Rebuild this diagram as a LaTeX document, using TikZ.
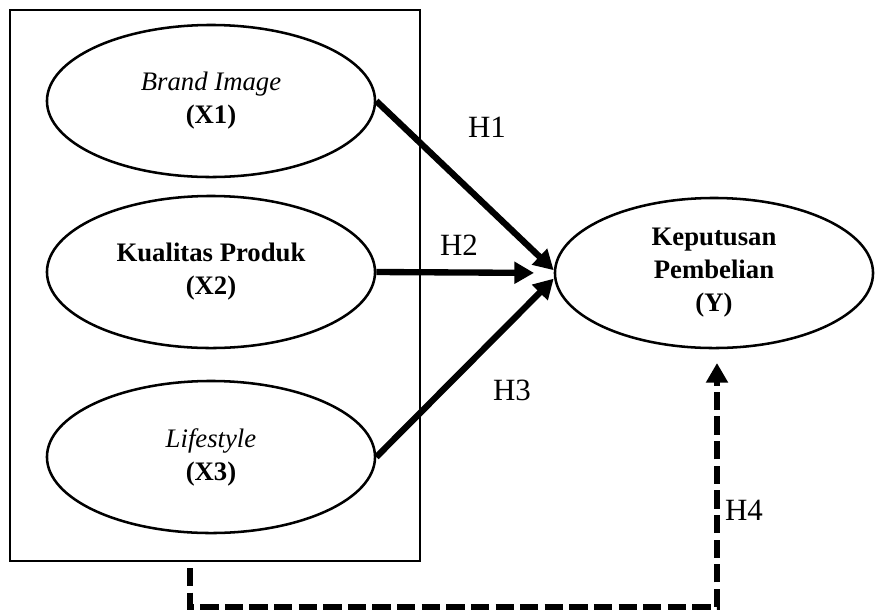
\documentclass[tikz,border=0pt]{standalone}
\usepackage{fontspec}
\setmainfont{Liberation Serif}
\usetikzlibrary{arrows.meta,shapes.geometric}
\tikzset{
    EL/.style ={ellipse,draw,line width=1.8pt,inner sep=0pt,minimum width=8.2cm,minimum height=3.8cm,align=center,font=\fontsize{19}{23.5}\selectfont},
    RB/.style ={rectangle,draw,line width=2pt,inner sep=0pt,minimum width=10.25cm,minimum height=13.775cm},
    AR/.style ={line width=4.5pt,-{Triangle[length=14pt,width=15pt]}},
    DA/.style ={line width=4.5pt,dash pattern=on 13pt off 4.5pt,-{Triangle[length=14pt,width=15pt]}},
    LB/.style ={font=\fontsize{22}{24}\selectfont}}

\begin{document}
\begin{tikzpicture}[x=0.025cm,y=-0.025cm]
        \useasboundingbox (0,0) rectangle (875,614);
        \node[RB] (0) at(215,285.5){};
        \node[EL] (1) at(211,101){\textit{Brand Image}\\\textbf{(X1)}};
        \node[EL] (2) at(211,272){\textbf{Kualitas Produk}\\\textbf{(X2)}};
        \node[EL] (3) at(211,457){\textit{Lifestyle}\\\textbf{(X3)}};
        \node[EL,minimum width=7.95cm,minimum height=3.75cm] (4) at(714,273){\textbf{Keputusan}\\\textbf{Pembelian}\\\textbf{(Y)}};
        \node[LB] (h1) at(487,127){H1};
        \node[LB] (h2) at(459,245){H2};
        \node[LB] (h3) at(512,390){H3};
        \node[LB] (h4) at(744,510){H4};
        \coordinate (s) at(190,568);
        \coordinate (e) at(717,363);
        \draw[AR] (1.east) -- ([yshift=2pt]4.west);
        \draw[AR,shorten >=14pt] (2.east) -- (4.west);
        \draw[AR] (3.east) -- ([yshift=-4pt]4.west);
        \draw[DA] (s) -- ++(0,39) -| (e);
    \end{tikzpicture}
\end{document}
